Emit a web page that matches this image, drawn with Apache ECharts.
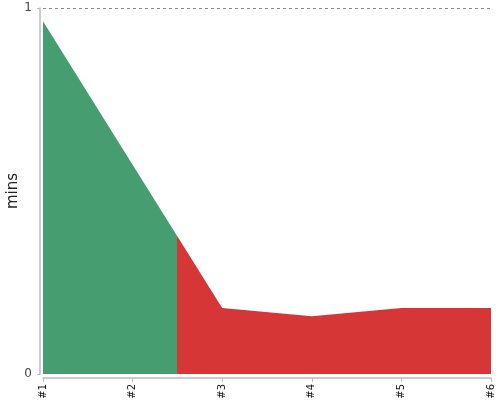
<!DOCTYPE html>
<html><head><meta charset="utf-8">
<script src="https://cdn.jsdelivr.net/npm/echarts@6/dist/echarts.min.js"></script>
<style>html,body{margin:0;padding:0;background:#fff}#c{width:500px;height:400px}</style>
</head><body><div id="c"></div>
<script>
const categories = ['#1', '#2', '#3', '#4', '#5', '#6'];
const values = [0.964, 0.572, 0.18, 0.158, 0.18, 0.18];
const yTicks = [0, 1];
const splitAt = 1.5;
const greenColor = '#469d6f';
const redColor = '#d73636';

const chart = echarts.init(document.getElementById('c'), null, {renderer: 'canvas'});
chart.setOption({
  animation: false,
  grid: {left: 43, right: 9, top: 8, bottom: 26, containLabel: false, outerBoundsMode: 'none'},
  xAxis: {
    type: 'value', min: 0, max: categories.length - 1, interval: 1, offset: 4,
    axisLine: {onZero: false, lineStyle: {color: '#bbb', width: 1.5}},
    axisTick: {length: 4, lineStyle: {color: '#bbb'}},
    splitLine: {show: false},
    axisLabel: {rotate: 90, fontSize: 10, color: '#111', fontFamily: 'DejaVu Sans', margin: 6,
      formatter: v => categories[v] || ''}
  },
  yAxis: {
    type: 'value', min: yTicks[0], max: yTicks[1], interval: 1, offset: 3,
    name: 'mins', nameLocation: 'middle', nameGap: 19, nameMoveOverlap: false,
    nameTextStyle: {fontSize: 15, color: '#222', fontFamily: 'DejaVu Sans'},
    axisLine: {show: true, onZero: false, lineStyle: {color: '#bbb', width: 1.5}},
    axisTick: {show: true, length: 3, lineStyle: {color: '#bbb'}},
    axisLabel: {fontSize: 12, color: '#444', fontFamily: 'DejaVu Sans', margin: 8},
    splitLine: {show: true, showMinLine: false, lineStyle: {type: [3, 3], color: '#888', width: 1}}
  },
  visualMap: {
    show: false, dimension: 0, seriesIndex: 0, type: 'piecewise',
    pieces: [{gte: 0, lte: splitAt, color: greenColor}, {gt: splitAt, lte: categories.length - 1, color: redColor}]
  },
  series: [{
    type: 'line', data: values.map((v, i) => [i, v]), showSymbol: false, symbol: 'none',
    lineStyle: {width: 0},
    areaStyle: {opacity: 1}
  }]
});
</script></body></html>
